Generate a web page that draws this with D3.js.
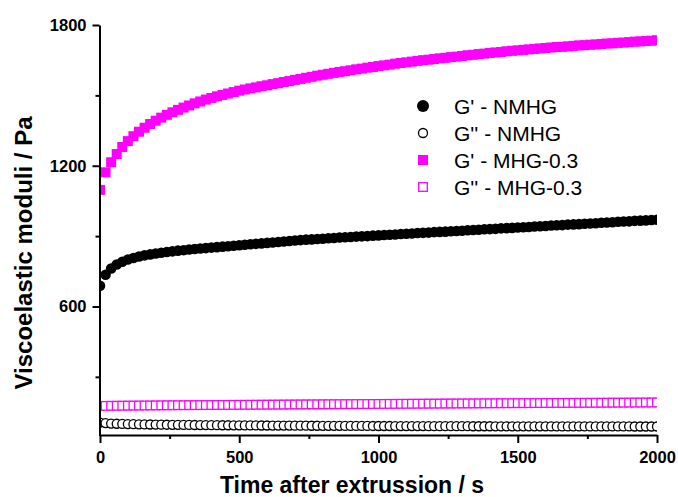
<!DOCTYPE html>
<html>
<head>
<meta charset="utf-8">
<script src="https://cdn.jsdelivr.net/npm/d3@7"></script>
<style>
  html, body { margin: 0; padding: 0; background: #fff; }
  svg { display: block; font-family: "Liberation Sans", Arial, Helvetica, sans-serif; }
</style>
</head>
<body>
<svg id="chart" width="678" height="497"></svg>
<script>
// Sampling times after extrusion (s)
const time = [
  0, 20, 40, 60, 80, 100, 120, 140, 160, 180,
  200, 220, 240, 260, 280, 300, 320, 340, 360, 380,
  400, 420, 440, 460, 480, 500, 520, 540, 560, 580,
  600, 620, 640, 660, 680, 700, 720, 740, 760, 780,
  800, 820, 840, 860, 880, 900, 920, 940, 960, 980,
  1000, 1020, 1040, 1060, 1080, 1100, 1120, 1140, 1160, 1180,
  1200, 1220, 1240, 1260, 1280, 1300, 1320, 1340, 1360, 1380,
  1400, 1420, 1440, 1460, 1480, 1500, 1520, 1540, 1560, 1580,
  1600, 1620, 1640, 1660, 1680, 1700, 1720, 1740, 1760, 1780,
  1800, 1820, 1840, 1860, 1880, 1900, 1920, 1940, 1960, 1980,
  2000
];

// Storage modulus G' of NMHG (Pa)
const gpNMHG = [
  688, 735, 762, 779, 791, 800, 807, 813, 818, 822,
  826, 829, 832, 835, 838, 840, 843, 845, 847, 849,
  851, 853, 855, 857, 859, 861, 863, 865, 867, 869,
  871, 873, 875, 877, 879, 881, 883, 885, 886, 888,
  889, 891, 892, 894, 895, 896, 898, 899, 900, 902,
  903, 905, 906, 907, 909, 910, 911, 913, 914, 915,
  917, 918, 919, 921, 922, 923, 925, 926, 927, 929,
  930, 931, 933, 934, 935, 937, 938, 939, 941, 942,
  943, 945, 946, 947, 949, 950, 951, 953, 954, 955,
  957, 958, 959, 961, 962, 963, 965, 966, 967, 969,
  970
];

// Loss modulus G'' of NMHG (Pa)
const gppNMHG = [
  105, 103, 101, 100, 99.2, 98.5, 98.1, 97.6, 97.2, 96.9,
  96.5, 96.2, 95.9, 95.6, 95.4, 95.1, 94.9, 94.7, 94.5, 94.3,
  94.1, 93.9, 93.7, 93.6, 93.4, 93.3, 93.1, 93.0, 92.8, 92.7,
  92.6, 92.4, 92.3, 92.2, 92.1, 91.9, 91.8, 91.7, 91.6, 91.5,
  91.4, 91.3, 91.2, 91.1, 91.0, 90.9, 90.8, 90.8, 90.7, 90.6,
  90.5, 90.4, 90.4, 90.3, 90.2, 90.2, 90.1, 90.0, 90.0, 89.9,
  89.9, 89.8, 89.8, 89.7, 89.7, 89.6, 89.6, 89.5, 89.5, 89.4,
  89.4, 89.3, 89.3, 89.2, 89.2, 89.2, 89.1, 89.1, 89.0, 89.0,
  89.0, 88.9, 88.9, 88.9, 88.8, 88.8, 88.8, 88.7, 88.7, 88.7,
  88.6, 88.6, 88.6, 88.5, 88.5, 88.5, 88.4, 88.4, 88.4, 88.4,
  88.3
];

// Storage modulus G' of MHG-0.3 (Pa)
const gpMHG = [
  1097, 1172, 1215, 1250, 1280, 1305, 1326, 1345, 1362, 1378,
  1392, 1405, 1417, 1428, 1438, 1448, 1457, 1466, 1474, 1482,
  1489, 1496, 1502, 1508, 1514, 1520, 1525, 1530, 1534, 1539,
  1543, 1548, 1552, 1557, 1561, 1566, 1570, 1575, 1579, 1584,
  1588, 1592, 1596, 1600, 1603, 1607, 1611, 1614, 1618, 1621,
  1625, 1628, 1631, 1635, 1638, 1641, 1644, 1647, 1650, 1652,
  1655, 1658, 1660, 1663, 1665, 1668, 1671, 1673, 1676, 1678,
  1681, 1683, 1685, 1688, 1690, 1692, 1694, 1696, 1698, 1700,
  1702, 1704, 1706, 1707, 1709, 1711, 1713, 1714, 1716, 1717,
  1719, 1721, 1722, 1724, 1725, 1727, 1729, 1730, 1732, 1733,
  1735
];

// Loss modulus G'' of MHG-0.3 (Pa)
const gppMHG = [
  176.0, 176.3, 176.6, 176.9, 177.1, 177.3, 177.5, 177.7, 177.9, 178.1,
  178.3, 178.5, 178.7, 178.9, 179.0, 179.2, 179.4, 179.5, 179.7, 179.8,
  180.0, 180.1, 180.3, 180.4, 180.6, 180.7, 180.9, 181.0, 181.2, 181.3,
  181.5, 181.6, 181.8, 181.9, 182.1, 182.2, 182.4, 182.5, 182.7, 182.8,
  183.0, 183.1, 183.3, 183.4, 183.6, 183.7, 183.9, 184.0, 184.2, 184.3,
  184.5, 184.6, 184.8, 184.9, 185.1, 185.2, 185.4, 185.5, 185.6, 185.8,
  185.9, 186.0, 186.2, 186.3, 186.4, 186.6, 186.7, 186.8, 187.0, 187.1,
  187.2, 187.4, 187.5, 187.6, 187.7, 187.9, 188.0, 188.1, 188.2, 188.4,
  188.5, 188.6, 188.7, 188.8, 189.0, 189.1, 189.2, 189.3, 189.4, 189.5,
  189.7, 189.8, 189.9, 190.0, 190.1, 190.2, 190.3, 190.5, 190.6, 190.7,
  190.8
];

const seriesNames = ["G' - NMHG", "G'' - NMHG", "G' - MHG-0.3", "G'' - MHG-0.3"];
const xTicks = [0, 500, 1000, 1500, 2000];
const xMinorTicks = [250, 750, 1250, 1750];
const yTicks = [600, 1200, 1800];
const yMinorTicks = [300, 900, 1500];

(function () {
  const BLACK = "#000000";
  const MAGENTA = "#ff00ff";

  const series = [
    { name: seriesNames[0], values: gpNMHG, shape: "circle", filled: true, color: BLACK },
    { name: seriesNames[1], values: gppNMHG, shape: "circle", filled: false, color: BLACK },
    { name: seriesNames[2], values: gpMHG, shape: "square", filled: true, color: MAGENTA },
    { name: seriesNames[3], values: gppMHG, shape: "square", filled: false, color: MAGENTA }
  ];

  const svg = d3.select("#chart");
  const plotLeft = 100, plotRight = 657, plotTop = 25, plotBottom = 435.5;

  const x = d3.scaleLinear().domain([0, 2000]).range([plotLeft, plotRight]);
  const y = d3.scaleLinear().domain([50, 1800]).range([plotBottom, plotTop]);

  // Data markers are clipped to the plotting layer
  svg.append("defs").append("clipPath").attr("id", "plotClip")
    .append("rect").attr("x", plotLeft).attr("y", 0)
    .attr("width", plotRight - plotLeft).attr("height", plotBottom);

  function drawMarker(sel, s, cx, cy, inLegend) {
    if (s.shape === "circle") {
      const r = s.filled ? (inLegend ? 6 : 5.3) : 4.5;
      sel.append("circle")
        .attr("cx", cx).attr("cy", cy).attr("r", r)
        .attr("fill", s.filled ? s.color : "#fff")
        .attr("stroke", s.filled ? "none" : s.color)
        .attr("stroke-width", 1.3);
    } else {
      const a = s.filled ? 10 : 8.6;
      sel.append("rect")
        .attr("x", cx - a / 2).attr("y", cy - a / 2)
        .attr("width", a).attr("height", a)
        .attr("fill", s.filled ? s.color : "#fff")
        .attr("stroke", s.filled ? "none" : s.color)
        .attr("stroke-width", 1.3);
    }
  }

  const plot = svg.append("g").attr("clip-path", "url(#plotClip)");
  series.forEach(s => {
    const g = plot.append("g").attr("class", "series");
    time.forEach((t, i) => drawMarker(g, s, x(t), y(s.values[i]), false));
  });

  // Axes
  function styleAxis(g, fontSize) {
    g.select(".domain").attr("stroke", "#000").attr("stroke-width", 2);
    g.selectAll(".tick line").attr("stroke", "#000").attr("stroke-width", 2);
    g.selectAll(".tick text")
      .attr("fill", "#000")
      .style("font-family", "'Liberation Sans', Arial, sans-serif")
      .style("font-weight", "bold")
      .style("font-size", fontSize + "px");
  }
  function minorTicks(g) {
    g.select(".domain").remove();
    g.selectAll(".tick line").attr("stroke", "#000").attr("stroke-width", 2);
  }

  const yAxisG = svg.append("g").attr("transform", `translate(${plotLeft - 0.5},0)`)
    .call(d3.axisLeft(y).tickValues(yTicks).tickSize(7).tickSizeOuter(0).tickPadding(6)
      .tickFormat(d3.format("d")));
  styleAxis(yAxisG, 16.5);

  svg.append("g").attr("transform", `translate(${plotLeft - 0.5},0)`)
    .call(d3.axisLeft(y).tickValues(yMinorTicks).tickSize(4).tickSizeOuter(0).tickFormat(""))
    .call(minorTicks);

  const xAxisG = svg.append("g").attr("transform", `translate(0,${plotBottom - 0.5})`)
    .call(d3.axisBottom(x).tickValues(xTicks).tickSize(8).tickSizeOuter(0).tickPadding(8)
      .tickFormat(d3.format("d")));
  styleAxis(xAxisG, 16.5);

  svg.append("g").attr("transform", `translate(0,${plotBottom - 0.5})`)
    .call(d3.axisBottom(x).tickValues(xMinorTicks).tickSize(4).tickSizeOuter(0).tickFormat(""))
    .call(minorTicks);

  // Axis titles
  svg.append("text")
    .attr("x", 352).attr("y", 493)
    .attr("text-anchor", "middle")
    .style("font-weight", "bold").style("font-size", "23px")
    .text("Time after extrussion / s");

  svg.append("text")
    .attr("transform", "translate(32,253) rotate(-90)")
    .attr("text-anchor", "middle")
    .style("font-weight", "bold").style("font-size", "24px")
    .text("Viscoelastic moduli / Pa");

  // Legend
  const legend = svg.append("g").attr("transform", "translate(423,106)");
  series.forEach((s, i) => {
    const row = legend.append("g").attr("transform", `translate(0,${i * 27})`);
    drawMarker(row, s, 0, 0, true);
    row.append("text")
      .attr("x", 31).attr("y", 0).attr("dy", "0.36em")
      .style("font-size", "21px")
      .attr("fill", "#000")
      .text(s.name);
  });
})();
</script>
</body>
</html>
